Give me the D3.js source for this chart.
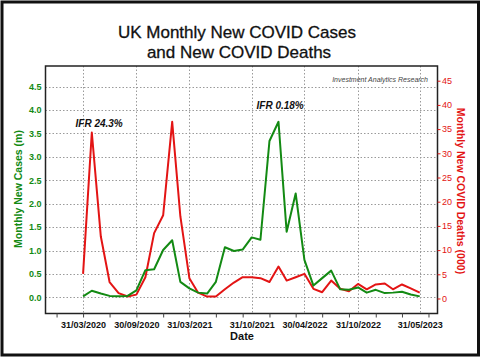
<!DOCTYPE html>
<html><head><meta charset="utf-8">
<script src="https://cdn.jsdelivr.net/npm/d3@7"></script>
<style>body{margin:0;background:#fff}svg{display:block}</style>
</head><body>
<svg id="c" width="482" height="360"></svg>
<script>
const months = ["2020-03","2020-04","2020-05","2020-06","2020-07","2020-08","2020-09","2020-10","2020-11","2020-12",
"2021-01","2021-02","2021-03","2021-04","2021-05","2021-06","2021-07","2021-08","2021-09","2021-10","2021-11","2021-12",
"2022-01","2022-02","2022-03","2022-04","2022-05","2022-06","2022-07","2022-08","2022-09","2022-10","2022-11","2022-12",
"2023-01","2023-02","2023-03","2023-04","2023-05"];
const cases = [0.02,0.14,0.08,0.03,0.02,0.03,0.15,0.58,0.60,1.01,1.22,0.33,0.19,0.10,0.08,0.33,1.07,0.99,1.02,1.28,1.23,3.34,3.75,1.40,2.22,0.80,0.25,0.41,0.57,0.17,0.16,0.21,0.10,0.16,0.09,0.10,0.12,0.06,0.02];
const deaths = [5.1,34.3,12.8,3.4,1.1,0.4,0.8,4.4,13.5,17.2,36.5,17.0,4.2,1.2,0.4,0.4,1.9,3.3,4.4,4.4,4.2,3.4,6.6,3.7,4.4,5.1,2.0,1.3,3.7,2.0,1.5,3.0,1.9,2.9,3.1,1.9,2.9,2.1,1.2];
const xTickLabels = ["31/03/2020","30/09/2020","31/03/2021","31/10/2021","30/04/2022","31/10/2022","31/05/2023"];
const leftTicks = [0,0.5,1,1.5,2,2.5,3,3.5,4,4.5];
const rightTicks = [0,5,10,15,20,25,30,35,40,45];
const minorTickMonths = ["2019-12","2020-03","2020-06","2020-09","2020-12","2021-03","2021-06","2021-09","2021-12","2022-03","2022-06","2022-09","2022-12","2023-03","2023-06"];

const svg = d3.select("#c");
const L=45.5, T=66, R=437.5, B=313.5;
const green="#138a13", red="#e31414";
const pm = d3.timeParse("%Y-%m");
const monthEnd = s => d3.timeDay.offset(d3.timeMonth.offset(pm(s),1),-1);
const pd = d3.timeParse("%d/%m/%Y");
const dates = months.map(monthEnd);

const x = d3.scaleTime().domain([new Date(2019,10,23), new Date(2023,6,31)]).range([L,R]);
const yL = d3.scaleLinear().domain([-0.346,4.942]).range([B,T]);
const yR = d3.scaleLinear().domain([-3.10,48.04]).range([B,T]);

// outer frame
svg.append("rect").attr("x",2).attr("y",2).attr("width",476.5).attr("height",353)
  .attr("fill","none").attr("stroke","#111").attr("stroke-width",3);

// title
svg.append("text").attr("x",237).attr("y",37.5).attr("text-anchor","middle")
  .attr("font-family","Liberation Sans, Arial, sans-serif").attr("font-size",17).attr("fill","#111")
  .attr("stroke","#111").attr("stroke-width",0.3)
  .text("UK Monthly New COVID Cases");
svg.append("text").attr("x",239).attr("y",58).attr("text-anchor","middle")
  .attr("font-family","Liberation Sans, Arial, sans-serif").attr("font-size",17).attr("fill","#111")
  .attr("stroke","#111").attr("stroke-width",0.3)
  .text("and New COVID Deaths");

// gridlines
const grid = svg.append("g").attr("stroke","#9a9a9a").attr("stroke-width",1).attr("stroke-dasharray","1.5,2");
leftTicks.forEach(v=>grid.append("line").attr("x1",L).attr("x2",R).attr("y1",Math.round(yL(v))+0.5).attr("y2",Math.round(yL(v))+0.5));
xTickLabels.forEach(s=>{const xx=Math.round(x(pd(s)))+0.5; grid.append("line").attr("x1",xx).attr("x2",xx).attr("y1",T).attr("y2",B);});

// lines
const lineL = d3.line().x((d,i)=>x(dates[i])).y(d=>yL(d));
const lineR = d3.line().x((d,i)=>x(dates[i])).y(d=>yR(d));
svg.append("path").datum(deaths).attr("d",lineR).attr("fill","none").attr("stroke",red).attr("stroke-width",2).attr("stroke-linejoin","round");
svg.append("path").datum(cases).attr("d",lineL).attr("fill","none").attr("stroke",green).attr("stroke-width",2).attr("stroke-linejoin","round");

// frame
svg.append("rect").attr("x",L).attr("y",T).attr("width",R-L).attr("height",B-T)
  .attr("fill","none").attr("stroke","#222").attr("stroke-width",1.5);

// axes
const ax = svg.append("g").attr("transform",`translate(0,${B})`)
  .call(d3.axisBottom(x).tickValues(xTickLabels.map(pd)).tickSize(0).tickPadding(8).tickFormat(d3.timeFormat("%d/%m/%Y")));
ax.select(".domain").remove();
ax.selectAll("text").attr("font-family","Liberation Sans, Arial, sans-serif").attr("font-size",9).attr("font-weight","bold").attr("fill","#111");
const mt = svg.append("g").attr("transform",`translate(0,${B})`)
  .call(d3.axisBottom(x).tickValues(minorTickMonths.map(monthEnd)).tickSize(4).tickFormat(""));
mt.select(".domain").remove();
mt.selectAll("line").attr("stroke","#444");

const al = svg.append("g").attr("transform",`translate(${L},0)`)
  .call(d3.axisLeft(yL).tickValues(leftTicks).tickSize(0).tickPadding(4).tickFormat(d3.format(".1f")));
al.select(".domain").remove();
al.selectAll("text").attr("font-family","Liberation Sans, Arial, sans-serif").attr("font-size",9).attr("font-weight","bold").attr("fill",green);

const ar = svg.append("g").attr("transform",`translate(${R},0)`)
  .call(d3.axisRight(yR).tickValues(rightTicks).tickSize(3).tickPadding(1.5));
ar.select(".domain").remove();
ar.selectAll("line").attr("stroke",red);
ar.selectAll("text").attr("font-family","Liberation Sans, Arial, sans-serif").attr("font-size",9).attr("fill",red);

// axis titles
svg.append("text").attr("transform","translate(22,189) rotate(-90)").attr("text-anchor","middle")
  .attr("font-family","Liberation Sans, Arial, sans-serif").attr("font-size",10.5).attr("font-weight","bold").attr("fill",green)
  .text("Monthly New Cases (m)");
svg.append("text").attr("transform","translate(457,191) rotate(90)").attr("text-anchor","middle")
  .attr("font-family","Liberation Sans, Arial, sans-serif").attr("font-size",10.5).attr("font-weight","bold").attr("fill",red)
  .text("Monthly New COVID Deaths (000)");
svg.append("text").attr("x",242).attr("y",340).attr("text-anchor","middle")
  .attr("font-family","Liberation Sans, Arial, sans-serif").attr("font-size",11).attr("font-weight","bold").attr("fill","#111")
  .text("Date");

// annotations
svg.append("text").attr("x",75.5).attr("y",127).attr("font-family","Liberation Sans, Arial, sans-serif")
  .attr("font-size",10).attr("font-weight","bold").attr("font-style","italic").attr("fill","#111").text("IFR 24.3%");
svg.append("text").attr("x",256.5).attr("y",108.5).attr("font-family","Liberation Sans, Arial, sans-serif")
  .attr("font-size",10).attr("font-weight","bold").attr("font-style","italic").attr("fill","#111").text("IFR 0.18%");
svg.append("text").attr("x",428).attr("y",82).attr("text-anchor","end").attr("font-family","Liberation Sans, Arial, sans-serif")
  .attr("font-size",7).attr("font-style","italic").attr("fill","#444").text("Investment Analytics Research");
</script>
</body></html>
